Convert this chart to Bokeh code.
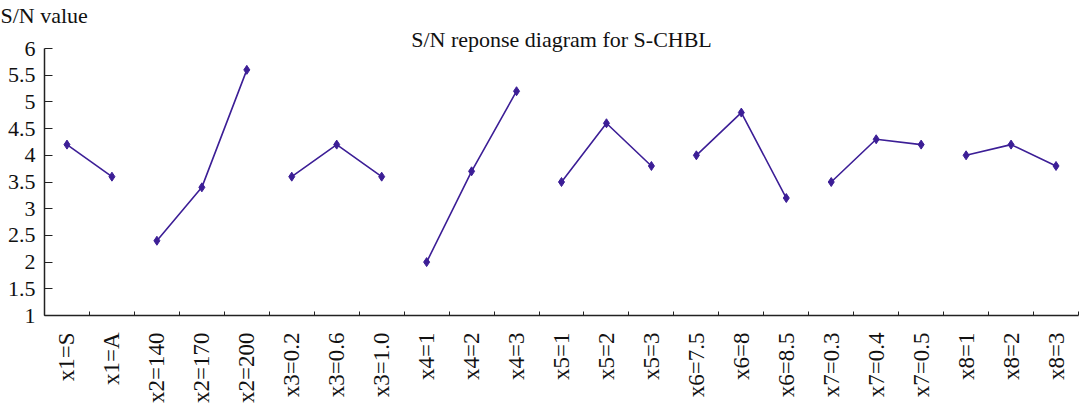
import numpy as np
from bokeh.plotting import figure
from bokeh.models import FixedTicker, Range1d, Title
from bokeh.embed import file_html
from bokeh.resources import INLINE

categories = ["x1=S", "x1=A",
              "x2=140", "x2=170", "x2=200",
              "x3=0.2", "x3=0.6", "x3=1.0",
              "x4=1", "x4=2", "x4=3",
              "x5=1", "x5=2", "x5=3",
              "x6=7.5", "x6=8", "x6=8.5",
              "x7=0.3", "x7=0.4", "x7=0.5",
              "x8=1", "x8=2", "x8=3"]
group_sizes = [2, 3, 3, 3, 3, 3, 3, 3]
sn_values = [4.2, 3.6,
             2.4, 3.4, 5.6,
             3.6, 4.2, 3.6,
             2.0, 3.7, 5.2,
             3.5, 4.6, 3.8,
             4.0, 4.8, 3.2,
             3.5, 4.3, 4.2,
             4.0, 4.2, 3.8]
y_ticks = [1, 1.5, 2, 2.5, 3, 3.5, 4, 4.5, 5, 5.5, 6]
title_text = "S/N reponse diagram for S-CHBL"
y_label_text = "S/N value"

FONT = "Liberation Serif"
COLOR = "#3C1E96"
n = len(categories)
centers = [i + 0.5 for i in range(n)]

p = figure(width=1087, height=414, output_backend="svg", toolbar_location=None,
           x_range=Range1d(0, n), y_range=Range1d(1, 6),
           min_border_left=44, min_border_right=9, min_border_top=0, min_border_bottom=99)
p.outline_line_color = None
p.xgrid.visible = False
p.ygrid.visible = False
p.background_fill_color = "white"

start = 0
for g in group_sizes:
    xs = centers[start:start + g]
    ys = sn_values[start:start + g]
    p.line(xs, ys, line_color=COLOR, line_width=1.6)
    p.scatter(xs, ys, marker="diamond", size=9, fill_color=COLOR, line_color=COLOR)
    start += g

# x axis
xa = p.xaxis[0]
xa.ticker = FixedTicker(ticks=centers, minor_ticks=list(range(n + 1)))
xa.major_label_overrides = {c: lab for c, lab in zip(centers, categories)}
xa.major_label_orientation = np.pi / 2
xa.major_tick_in = 0
xa.major_tick_out = 0
xa.minor_tick_in = 4
xa.minor_tick_out = 0
xa.minor_tick_line_color = "#222222"
xa.axis_line_color = "#222222"
xa.axis_line_width = 1.5
xa.major_label_standoff = 17
xa.major_label_text_font = FONT
xa.major_label_text_font_size = "23px"
xa.major_label_text_color = "#111111"

# y axis
ya = p.yaxis[0]
ya.ticker = FixedTicker(ticks=y_ticks, minor_ticks=[])
ya.major_tick_in = 8
ya.major_tick_out = 0
ya.major_tick_line_color = "#222222"
ya.axis_line_color = "#222222"
ya.axis_line_width = 1.5
ya.major_label_standoff = 9
ya.major_label_text_font = FONT
ya.major_label_text_font_size = "22px"
ya.major_label_text_color = "#111111"

# y label in the top-left corner, main title centred just above the frame
p.title.text = y_label_text
p.title.align = "left"
p.title.offset = -44
p.title.standoff = 0
p.title.text_font = FONT
p.title.text_font_size = "22px"
p.title.text_font_style = "normal"
p.title.text_color = "#111111"

p.add_layout(Title(text=title_text, align="center", standoff=-6,
                   text_font=FONT, text_font_size="22px", text_font_style="normal",
                   text_color="#111111"), "above")

open("out.html", "w").write(file_html(p, INLINE))
